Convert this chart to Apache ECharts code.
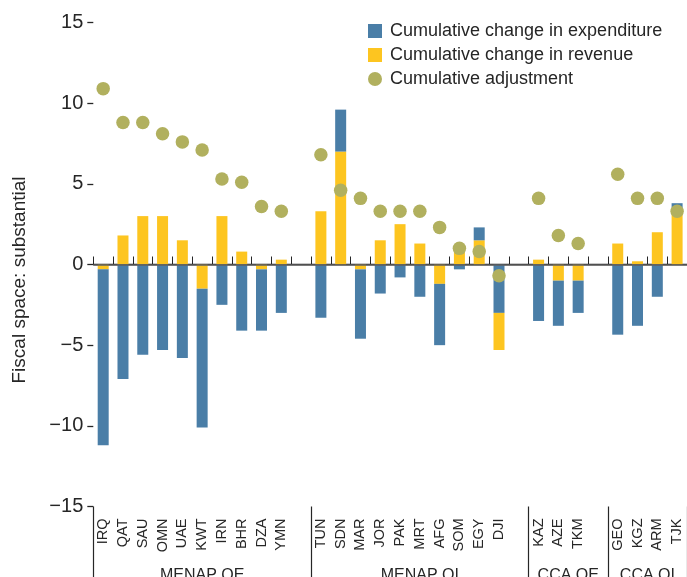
<!DOCTYPE html>
<html>
<head>
<meta charset="utf-8">
<script src="https://cdn.jsdelivr.net/npm/echarts@6/dist/echarts.min.js"></script>
<style>
  html, body { margin: 0; padding: 0; background: #fff; }
  #chart { width: 687px; height: 577px; }
</style>
</head>
<body>
<div id="chart"></div>
<script>
// Country groups and their members (a blank slot follows each group but the last)
const groupNames = ['MENAP OE', 'MENAP OI', 'CCA OE', 'CCA OI'];
const groupSizes = [10, 10, 3, 4];
const countries = [
  'IRQ', 'QAT', 'SAU', 'OMN', 'UAE', 'KWT', 'IRN', 'BHR', 'DZA', 'YMN',
  'TUN', 'SDN', 'MAR', 'JOR', 'PAK', 'MRT', 'AFG', 'SOM', 'EGY', 'DJI',
  'KAZ', 'AZE', 'TKM',
  'GEO', 'KGZ', 'ARM', 'TJK'
];

// Cumulative changes, percent of GDP
const expenditure = [
  -10.9, -7.1, -5.6, -5.3, -5.8, -8.6, -2.5, -4.1, -3.8, -3.0,
  -3.3, 2.6, -4.3, -1.8, -0.8, -2.0, -3.8, -0.3, 0.8, -3.0,
  -3.5, -2.8, -2.0,
  -4.35, -3.8, -2.0, 0.3
];
const revenue = [
  -0.3, 1.8, 3.0, 3.0, 1.5, -1.5, 3.0, 0.8, -0.3, 0.3,
  3.3, 7.0, -0.3, 1.5, 2.5, 1.3, -1.2, 0.9, 1.5, -2.3,
  0.3, -1.0, -1.0,
  1.3, 0.2, 2.0, 3.5
];
const adjustment = [
  10.9, 8.8, 8.8, 8.1, 7.6, 7.1, 5.3, 5.1, 3.6, 3.3,
  6.8, 4.6, 4.1, 3.3, 3.3, 3.3, 2.3, 1.0, 0.8, -0.7,
  4.1, 1.8, 1.3,
  5.6, 4.1, 4.1, 3.3
];
// Countries whose revenue segment sits beyond the expenditure segment
const revenueAfterExpenditure = ['DJI'];

const yTicks = { min: -15, max: 15, step: 5 };

// Build the category slots (countries plus group spacers)
const slots = [];
const slotOf = [];
const groupStart = [];
let k = 0;
groupSizes.forEach((n, g) => {
  groupStart.push(slots.length);
  for (let i = 0; i < n; i++) {
    slotOf.push(slots.length);
    slots.push(countries[k++]);
  }
  if (g < groupSizes.length - 1) slots.push('');
});
const separators = groupStart.concat([slots.length]);
const groupCenters = groupStart.map((s, g) => (s + separators[g + 1]) / 2);

function toSlots(values, keep) {
  const out = slots.map(() => null);
  values.forEach((v, i) => {
    if (!keep || keep(countries[i])) out[slotOf[i]] = v;
  });
  return out;
}

const FONT = "'Liberation Sans', Arial, sans-serif";
const INK = '#262626';
const BLUE = '#4a7ea7';
const YELLOW = '#fdc520';
const OLIVE = '#b1b05e';

const chart = echarts.init(document.getElementById('chart'), null, { renderer: 'canvas' });

chart.setOption({
  animation: false,
  backgroundColor: '#fff',
  grid: {
    left: 93.3, right: 0, top: 22.5, bottom: 70.5,
    containLabel: false,
    outerBoundsMode: 'none'
  },
  legend: {
    orient: 'vertical',
    left: 368,
    top: 22,
    padding: 0,
    itemWidth: 14,
    itemHeight: 14,
    itemGap: 6,
    data: [
      { name: 'Cumulative change in expenditure', icon: 'rect' },
      { name: 'Cumulative change in revenue', icon: 'rect' },
      { name: 'Cumulative adjustment', icon: 'circle' }
    ],
    textStyle: { fontFamily: FONT, fontSize: 18, color: INK, padding: [0, 0, 0, 3] }
  },
  graphic: [{
    type: 'text',
    x: 20,
    y: 280,
    rotation: Math.PI / 2,
    style: {
      text: 'Fiscal space: substantial',
      fontFamily: FONT,
      fontSize: 19,
      fill: INK,
      align: 'center',
      verticalAlign: 'middle'
    }
  }],
  xAxis: [
    {
      type: 'category',
      data: slots,
      boundaryGap: true,
      position: 'bottom',
      axisLine: { show: true, lineStyle: { color: INK, width: 1.3 } },
      axisTick: { show: true, inside: true, length: 8, interval: 0, lineStyle: { color: INK, width: 1 } },
      axisLabel: {
        interval: 0, rotate: 90, margin: 12,
        fontFamily: FONT, fontSize: 14.5, color: INK
      },
      splitLine: { show: false }
    },
    {
      type: 'value',
      min: 0,
      max: slots.length,
      position: 'bottom',
      axisLine: { show: false },
      splitLine: { show: false },
      axisTick: {
        show: true, inside: false, length: 75,
        customValues: separators,
        lineStyle: { color: INK, width: 1.2 }
      },
      axisLabel: {
        show: true, margin: 61,
        customValues: groupCenters,
        formatter: v => groupNames[groupCenters.indexOf(v)] || '',
        fontFamily: FONT, fontSize: 16, color: INK
      }
    }
  ],
  yAxis: {
    type: 'value',
    min: yTicks.min,
    max: yTicks.max,
    interval: yTicks.step,
    axisLine: { show: false },
    axisTick: { show: true, length: 6, lineStyle: { color: INK, width: 1.3 } },
    axisLabel: {
      margin: 10, fontFamily: FONT, fontSize: 20, color: INK,
      formatter: v => (v < 0 ? '\u2212' + Math.abs(v) : String(v))
    },
    splitLine: { show: false }
  },
  series: [
    {
      name: 'Cumulative change in revenue',
      type: 'bar',
      stack: 'total',
      barWidth: 11,
      z: 2,
      itemStyle: { color: YELLOW },
      data: toSlots(revenue, c => revenueAfterExpenditure.indexOf(c) < 0)
    },
    {
      name: 'Cumulative change in expenditure',
      type: 'bar',
      stack: 'total',
      barWidth: 11,
      z: 2,
      itemStyle: { color: BLUE },
      data: toSlots(expenditure)
    },
    {
      name: 'Cumulative change in revenue',
      type: 'bar',
      stack: 'total',
      barWidth: 11,
      z: 2,
      itemStyle: { color: YELLOW },
      data: toSlots(revenue, c => revenueAfterExpenditure.indexOf(c) >= 0)
    },
    {
      name: 'Cumulative adjustment',
      type: 'scatter',
      symbol: 'circle',
      symbolSize: 13.5,
      z: 5,
      itemStyle: { color: OLIVE, opacity: 1 },
      data: toSlots(adjustment),
      markLine: {
        silent: true,
        symbol: 'none',
        label: { show: false },
        lineStyle: { color: 'rgba(95,95,95,0.75)', width: 2, type: 'solid' },
        data: [{ yAxis: 0 }]
      }
    }
  ]
});
</script>
</body>
</html>
